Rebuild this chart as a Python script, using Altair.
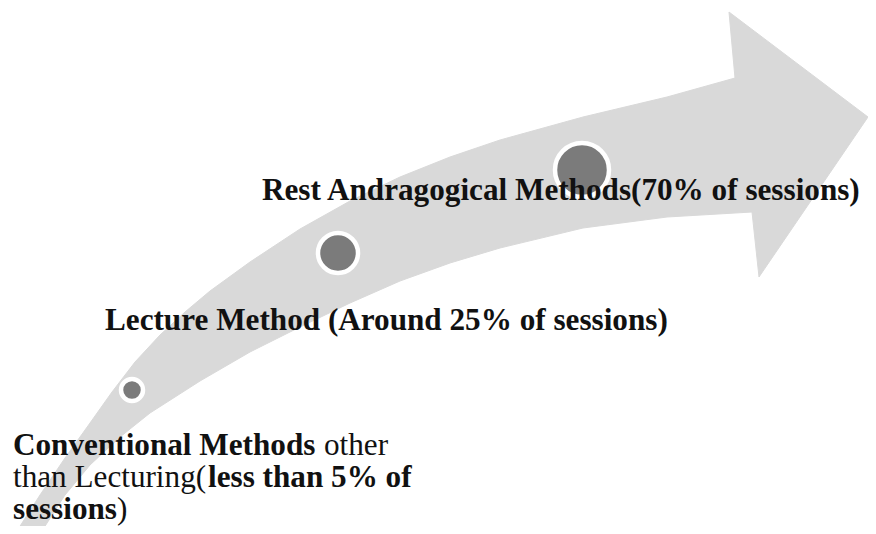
import altair as alt
import pandas as pd

# ---- curved arrow outline (diagram coordinates) ----
upper_x = [15, 40, 65, 90, 112, 135, 160, 185, 210, 250, 300, 350, 400, 450, 500, 583, 667, 735]
upper_y = [534, 495, 458, 423, 392, 362, 335, 312, 291, 262, 229, 201, 177, 157, 140, 117, 97, 78]
head_x = [729, 868, 759, 752]
head_y = [12, 117, 277, 212]
lower_x = [667, 583, 500, 450, 400, 350, 300, 250, 200, 150, 120, 90, 65, 40]
lower_y = [217, 228, 248, 263, 281, 303, 327, 352, 381, 413, 437, 465, 495, 534]

# ---- milestone circles ----
circle_x = [132, 338, 582]
circle_y = [390, 253, 170]
circle_label = ["Conventional (<5%)", "Lecture (~25%)", "Andragogical (70%)"]
circle_diam = [22, 40, 54]

# ---- text segments ----
label_text = [
    "Rest Andragogical Methods(70% of sessions)",
    "Lecture Method (Around 25% of sessions)",
    "Conventional Methods",
    "other",
    "than Lecturing(",
    "less than 5% of",
    "sessions",
    ")",
]
label_x = [262, 105, 13, 324, 13, 208, 13, 117]
label_y = [200, 330, 455, 455, 487, 487, 519, 519]
label_bold = [True, True, True, False, False, True, True, False]

ax = upper_x + head_x + lower_x
ay = upper_y + head_y + lower_y
arrow_df = pd.DataFrame({"x": ax, "y": ay, "order": list(range(len(ax)))})
circ_df = pd.DataFrame({"x": circle_x, "y": circle_y, "name": circle_label,
                        "size": [d * d for d in circle_diam]})
lab_df = pd.DataFrame({"text": label_text, "x": label_x, "y": label_y, "bold": label_bold})

xs = alt.Scale(domain=[8, 868], nice=False, zero=False)
ys = alt.Scale(domain=[8, 526], nice=False, zero=False, reverse=True)

X = lambda: alt.X("x:Q", scale=xs, axis=None)
Y = lambda: alt.Y("y:Q", scale=ys, axis=None)

arrow = alt.Chart(arrow_df).mark_line(
    fill="#d9d9d9", stroke="#d9d9d9", strokeWidth=1, interpolate="linear", clip=True
).encode(x=X(), y=Y(), order="order:Q")

circles = alt.Chart(circ_df).mark_circle(
    color="#7b7b7b", opacity=1, stroke="white", strokeWidth=4.5
).encode(x=X(), y=Y(), size=alt.Size("size:Q", scale=None, legend=None))

font = "Liberation Serif"
bold_txt = alt.Chart(lab_df).transform_filter("datum.bold").mark_text(
    align="left", baseline="alphabetic", font=font, fontSize=31.2,
    fontWeight="bold", color="#111111"
).encode(x=X(), y=Y(), text="text:N")

norm_txt = alt.Chart(lab_df).transform_filter("!datum.bold").mark_text(
    align="left", baseline="alphabetic", font=font, fontSize=31.2,
    fontWeight="normal", color="#111111"
).encode(x=X(), y=Y(), text="text:N")

chart = alt.layer(arrow, circles, bold_txt, norm_txt).properties(
    width=860, height=518, padding=0, autosize=alt.AutoSizeParams(type="none")
).configure_view(stroke=None)

chart.save("out.html", embed_options={"renderer": "svg", "actions": False})
